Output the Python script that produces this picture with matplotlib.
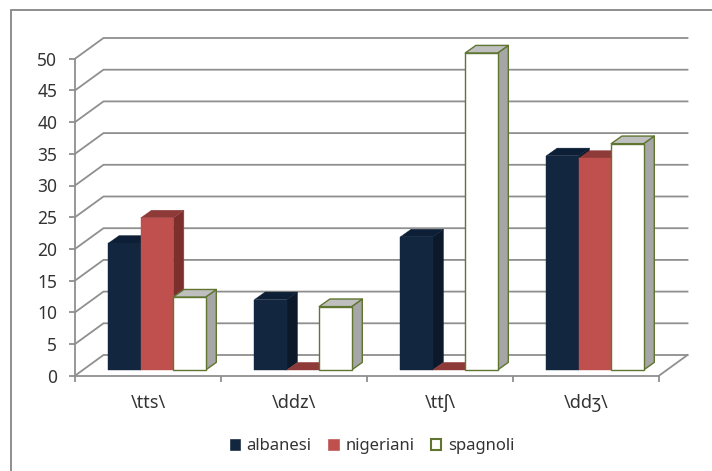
import matplotlib
matplotlib.use("Agg")
import matplotlib.pyplot as plt
from matplotlib.lines import Line2D
from matplotlib.patches import Polygon, Patch

plt.rcParams['font.family'] = ['Noto Sans', 'DejaVu Sans']

categories = ["\\tts\\", "\\ddz\\", "\\ttʃ\\", "\\ddʒ\\"]
series_names = ["albanesi", "nigeriani", "spagnoli"]
albanesi = [20.0, 11.1, 21.0, 33.8]
nigeriani = [24.0, 0.0, 0.0, 33.4]
spagnoli = [11.5, 10.0, 50.0, 35.7]
y_ticks = list(range(0, 55, 5))

W, H = 712, 471
LEFT, RIGHT, BOTTOM, TOP = 75, 659, 375.7, 58.7
PX_X = (RIGHT - LEFT) / len(categories)   # pixels per category
PX_Y = (BOTTOM - TOP) / 50                # pixels per value unit

fig = plt.figure(figsize=(W / 100, H / 100), dpi=100, facecolor="white")
ax = fig.add_axes([LEFT / W, 1 - BOTTOM / H, (RIGHT - LEFT) / W, (BOTTOM - TOP) / H])
ax.set_xlim(0, len(categories))
ax.set_ylim(0, 50)
ax.patch.set_visible(False)

GRID = "#8f8f8f"
TEXT = "#333333"

# floor and back wall depth, expressed in axis units
wall_dx = 28.5 / PX_X
wall_dy = 20.7 / PX_Y

# gridlines run along the side wall, then across the back wall
for v in y_ticks:
    ax.plot([0, wall_dx, len(categories) + wall_dx], [v, v + wall_dy, v + wall_dy],
            color=GRID, lw=1.3, clip_on=False, zorder=1, solid_joinstyle="miter")
ax.plot([len(categories), len(categories) + wall_dx], [0, wall_dy],
        color=GRID, lw=1.3, clip_on=False, zorder=1)

# axes
for side in ("top", "right"):
    ax.spines[side].set_visible(False)
for side in ("left", "bottom"):
    ax.spines[side].set_color(GRID)
    ax.spines[side].set_linewidth(1.3)
    ax.spines[side].set_zorder(2)

ax.set_yticks(y_ticks)
ax.set_xticks(range(len(categories) + 1))
ax.set_xticklabels([])
ax.set_xticks([i + 0.5 for i in range(len(categories))], minor=True)
ax.set_xticklabels(categories, minor=True)
ax.tick_params(axis="y", color=GRID, width=1.3, length=4.3, pad=8.5,
               labelsize=12.5, labelcolor=TEXT)
ax.tick_params(axis="x", which="major", color=GRID, width=1.3, length=4)
ax.tick_params(axis="x", which="minor", length=0, pad=13, labelsize=13, labelcolor=TEXT)

# bar geometry: three touching bars per category, set part-way into the floor
bar_w = 32.4 / PX_X
lift_x = 9.0 / PX_X
lift_y = 5.7 / PX_Y
depth_x = 10.7 / PX_X
depth_y = 7.6 / PX_Y

styles = [
    dict(values=albanesi, face="#12263F", side="#0B192B", top="#0D1F36", edge="#12263F", lw=0.3),
    dict(values=nigeriani, face="#C0504D", side="#7C302E", top="#8E3A38", edge="#C0504D", lw=0.3),
    dict(values=spagnoli, face="#FFFFFF", side="#A6A6A6", top="#BFBFBF", edge="#5F7530", lw=1.0),
]

z = 3
for c in range(len(categories)):
    for s, st in enumerate(styles):
        v = st["values"][c]
        x0 = c + 0.5 - 1.5 * bar_w + s * bar_w + lift_x
        x1 = x0 + bar_w
        y0 = lift_y
        y1 = lift_y + v
        ax.add_patch(Polygon([(x1, y0), (x1 + depth_x, y0 + depth_y),
                              (x1 + depth_x, y1 + depth_y), (x1, y1)],
                             facecolor=st["side"], edgecolor=st["edge"], lw=st["lw"],
                             clip_on=False, zorder=z, joinstyle="round"))
        ax.add_patch(Polygon([(x0, y1), (x0 + depth_x, y1 + depth_y),
                              (x1 + depth_x, y1 + depth_y), (x1, y1)],
                             facecolor=st["top"], edgecolor=st["edge"] if s == 2 else st["top"],
                             lw=st["lw"], clip_on=False, zorder=z, joinstyle="round"))
        if v > 0:
            ax.bar(x0, v, width=bar_w, bottom=y0, align="edge", color=st["face"],
                   edgecolor=st["edge"], linewidth=st["lw"], clip_on=False, zorder=z)
        z += 1

handles = [Patch(facecolor=st["face"], edgecolor=st["edge"], lw=max(st["lw"], 0.3) * 1.5)
           for st in styles]
fig.legend(handles, series_names, loc="center", bbox_to_anchor=(372 / W, 1 - 446 / H),
           ncol=3, frameon=False, fontsize=12, labelcolor=TEXT, handlelength=0.62,
           handleheight=0.62, handletextpad=0.4, columnspacing=1.0)

# chart area border: only the left and top edges fall inside the frame
fig.add_artist(Line2D([11 / W, 11 / W, 1], [0, 1 - 10 / H, 1 - 10 / H],
                      color="#868686", lw=1.3, transform=fig.transFigure,
                      solid_joinstyle="miter"))

fig.savefig("out.png", dpi=100, facecolor="white")
